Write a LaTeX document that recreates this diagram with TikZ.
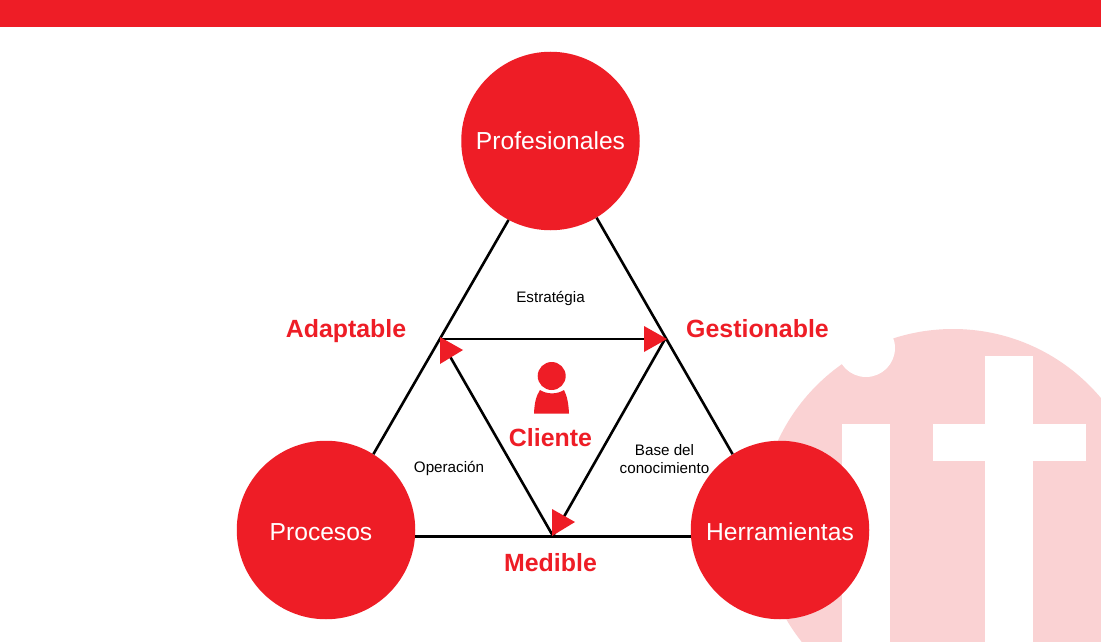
\documentclass[tikz,border=0pt]{standalone}
\usepackage{fontspec}
\setmainfont{Liberation Sans}
\definecolor{itred}{RGB}{238,29,38}
\definecolor{itpink}{RGB}{250,210,211}
\tikzset{
  x=1pt,y=-1pt,
  hub/.style={circle,fill=itred,inner sep=0pt,minimum size=178.5pt,text=white,font=\fontsize{24.6}{28}\selectfont},
  link/.style={draw=black,line width=2.6pt},
  quality/.style={text=itred,inner sep=0pt,font=\fontsize{24.9}{28}\selectfont\bfseries},
  note/.style={text=black,inner sep=0pt,align=center,font=\fontsize{15.2}{18}\selectfont},
  tip/.style={fill=itred,draw=none}
}
\begin{document}
\begin{tikzpicture}
\useasboundingbox (0,0) rectangle (1101,642);
\fill[white] (0,0) rectangle (1101,642);
\fill[itred] (0,0) rectangle (1101,27);
% watermark
\begin{scope}
\clip (0,0) rectangle (1101,642);
\fill[itpink] (953,522) circle[radius=193];
\fill[white] (866,348) circle[radius=29];
\fill[white] (842,424) rectangle (890,642);
\fill[white] (985,356) rectangle (1033,642);
\fill[white] (933,424) rectangle (1086,461);
\end{scope}
% hubs
\node[hub] (prof) at (550.5,141) {Profesionales};
\node[hub] (proc) at (326,530) {\raisebox{-10.8pt}[0pt][0pt]{Procesos}\hspace*{10pt}};
\node[hub] (herr) at (780,530) {\raisebox{-10.8pt}[0pt][0pt]{Herramientas}};
% inner corners
\coordinate (a) at (440,339);
\coordinate (b) at (665,339);
\coordinate (c) at (553,536);
% links
\draw[link] (prof.-118.3) -- (proc.58.5);
\draw[link] (prof.-59.5) -- (herr.122);
\draw[link] (proc.-4.3) -- (herr.184.3);
\draw[link] (a) -- (b);
\draw[link] (b) -- (c);
\draw[link] (c) -- (a);
% arrowheads
\fill[tip] (644,326) -- (667,339) -- (644,352) -- cycle;
\fill[tip] (440,337) -- (463,350) -- (440,364) -- cycle;
\fill[tip] (552,509) -- (575,522) -- (552,536) -- cycle;
% person
\fill[itred] (551.7,376) circle[radius=14];
\fill[itred] (534,413.5) .. controls (534.5,403) and (536,396) .. (540,390)
  .. controls (547,394.5) and (557,394.5) .. (564,390)
  .. controls (567,396) and (568.5,403) .. (569,413.5) -- cycle;
% labels
\node[quality] (adapt) at (346,331) {Adaptable};
\node[quality] (gest) at (757.5,329) {Gestionable};
\node[quality] (med) at (550.5,563) {Medible};
\node[quality] (cli) at (550.5,438) {Cliente};
\node[note] (est) at (550.5,298) {Estratégia};
\node[note] (oper) at (449,468) {Operación};
\node[note] (base) at (664.5,459) {Base del\\conocimiento};
\end{tikzpicture}
\end{document}
